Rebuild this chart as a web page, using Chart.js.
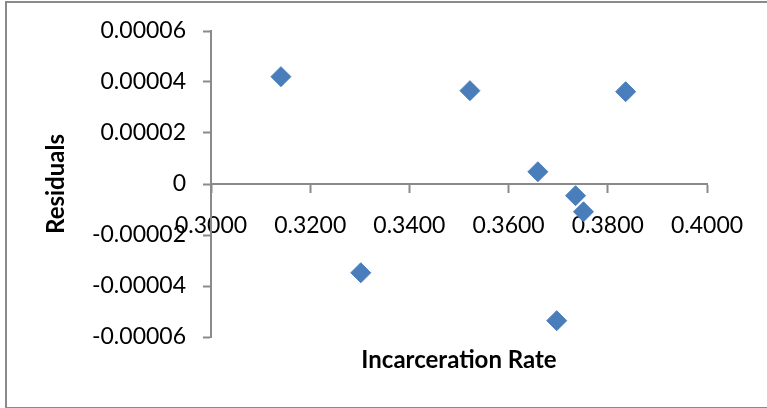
<!DOCTYPE html>
<html>
<head>
<meta charset="utf-8">
<script src="https://cdn.jsdelivr.net/npm/chart.js@4"></script>
<style>
    body { margin: 0; background: #fff; }
    #wrap { position: relative; width: 767px; height: 408px; }
    #frame {
        position: absolute;
        left: 5px; top: 1px;
        width: 780px; height: 404px;
        border: 2px solid #8a8a8a;
        pointer-events: none;
    }
</style>
</head>
<body>
<div id="wrap">
    <canvas id="residuals" width="767" height="408"></canvas>
    <div id="frame"></div>
</div>
<script>
const incarcerationRate = [0.3141, 0.3302, 0.3522, 0.3659, 0.3735, 0.3751, 0.3697, 0.3836];
const residuals = [0.0000421, -0.0000348, 0.0000366, 0.0000048, -0.0000046, -0.0000109, -0.0000536, 0.0000362];

const xTicks = [0.30, 0.32, 0.34, 0.36, 0.38, 0.40];
const yTicks = [-0.00006, -0.00004, -0.00002, 0, 0.00002, 0.00004, 0.00006];

const axisColor = '#8a8a8a';
const markerColor = '#4a7ebb';

function displayChart() {
    const ctx = document.getElementById('residuals').getContext('2d');

    let points = incarcerationRate.map((x, i) => ({ x: x, y: residuals[i] }));

    new Chart(ctx, {
        type: 'scatter',
        data: {
            datasets: [{
                data: points,
                pointStyle: 'rectRot',
                pointRadius: 10,
                pointHoverRadius: 10,
                backgroundColor: markerColor,
                borderColor: markerColor,
                borderWidth: 1
            }]
        },
        options: {
            responsive: false,
            animation: false,
            layout: {
                padding: { left: 0, top: 31, right: 60, bottom: 71 }
            },
            scales: {
                x: {
                    type: 'linear',
                    position: { y: 0 },
                    min: xTicks[0],
                    max: xTicks[xTicks.length - 1],
                    afterBuildTicks: scale => {
                        scale.ticks = xTicks.map(v => ({ value: v }));
                    },
                    afterFit: scale => {
                        scale.height = 191;
                    },
                    grid: {
                        drawOnChartArea: false,
                        drawTicks: true,
                        tickLength: 8,
                        tickWidth: 2,
                        color: axisColor
                    },
                    border: {
                        color: axisColor,
                        width: 2
                    },
                    ticks: {
                        color: '#000',
                        padding: 20,
                        maxRotation: 0,
                        autoSkip: false,
                        font: { family: 'Lato', size: 23 },
                        callback: value => value.toFixed(4)
                    },
                    title: {
                        display: true,
                        text: 'Incarceration Rate',
                        color: '#000',
                        padding: 0,
                        font: { family: 'Lato', size: 24, weight: 'bold' }
                    }
                },
                y: {
                    type: 'linear',
                    position: 'left',
                    min: yTicks[0],
                    max: yTicks[yTicks.length - 1],
                    afterBuildTicks: scale => {
                        scale.ticks = yTicks.map(v => ({ value: v }));
                    },
                    afterFit: scale => {
                        scale.width = 211;
                    },
                    grid: {
                        drawOnChartArea: false,
                        drawTicks: true,
                        tickLength: 8,
                        tickWidth: 2,
                        color: axisColor
                    },
                    border: {
                        color: axisColor,
                        width: 2
                    },
                    ticks: {
                        color: '#000',
                        padding: 17,
                        autoSkip: false,
                        font: { family: 'Lato', size: 23 },
                        callback: value => Math.abs(value) < 1e-12 ? '0' : value.toFixed(5)
                    },
                    title: {
                        display: true,
                        text: 'Residuals',
                        color: '#000',
                        padding: { top: 42, bottom: 0 },
                        font: { family: 'Lato', size: 24, weight: 'bold' }
                    }
                }
            },
            plugins: {
                tooltip: { enabled: false },
                legend: { display: false }
            }
        }
    });
}

displayChart();
</script>
</body>
</html>
